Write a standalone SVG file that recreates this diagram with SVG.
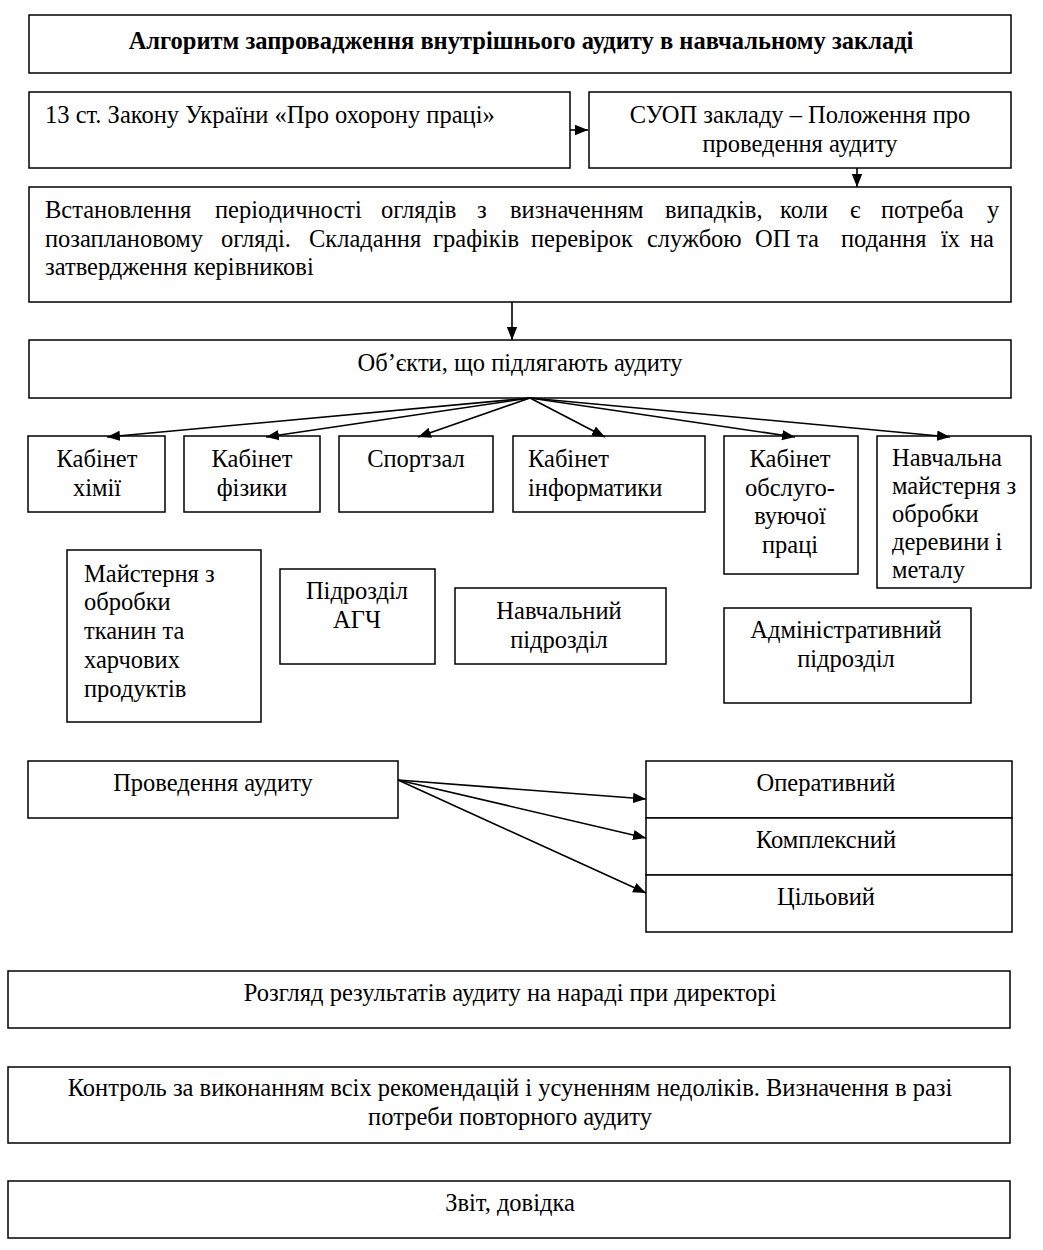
<svg xmlns="http://www.w3.org/2000/svg" width="1043" height="1250" viewBox="0 0 1043 1250">
<defs>
<marker id="ah2" viewBox="0 0 10 10" refX="10" refY="5" markerWidth="13" markerHeight="13" markerUnits="userSpaceOnUse" orient="auto"><path d="M0,1 L10,5 L0,9 z" fill="#000"/></marker>
</defs>
<style>
rect{fill:#fff;stroke:#000;stroke-width:1.5}
text{font-family:"Liberation Serif","Times New Roman",serif;font-size:24.5px;fill:#000}
.c{text-anchor:middle}
.b{font-weight:bold;font-size:24.5px}
.e line{stroke:#000;stroke-width:1.6;marker-end:url(#ah2)}
</style>
<rect x="0" y="0" width="1043" height="1250" style="fill:#fff;stroke:none"/>
<g id="title"><rect x="29" y="15" width="982" height="58"/><text class="c b" x="521" y="49">Алгоритм запровадження внутрішнього аудиту в навчальному закладі</text></g>
<g id="law"><rect x="29" y="92" width="541" height="76"/><text x="45" y="123">13 ст. Закону України «Про охорону праці»</text></g>
<g id="suop"><rect x="589" y="92" width="422" height="76"/><text class="c" x="800" y="123">СУОП закладу – Положення про</text><text class="c" x="800" y="152">проведення аудиту</text></g>
<g id="period"><rect x="29" y="187" width="982" height="115"/>
<text y="218"><tspan x="45">Встановлення</tspan><tspan x="215">періодичності</tspan><tspan x="381">оглядів</tspan><tspan x="477">з</tspan><tspan x="510">визначенням</tspan><tspan x="665">випадків,</tspan><tspan x="780">коли</tspan><tspan x="850">є</tspan><tspan x="881">потреба</tspan><tspan x="987">у</tspan></text>
<text y="247"><tspan x="45">позаплановому</tspan><tspan x="221">огляді.</tspan><tspan x="309">Складання</tspan><tspan x="433">графіків</tspan><tspan x="531">перевірок</tspan><tspan x="647">службою</tspan><tspan x="755">ОП</tspan><tspan x="797">та</tspan><tspan x="841">подання</tspan><tspan x="941">їх</tspan><tspan x="970">на</tspan></text>
<text x="45" y="275">затвердження керівникові</text></g>
<g id="objects"><rect x="29" y="340" width="982" height="58"/><text class="c" x="520" y="371">Об’єкти, що підлягають аудиту</text></g>
<g id="chem"><rect x="28" y="436" width="137" height="76"/><text class="c" x="97" y="467">Кабінет</text><text class="c" x="97" y="496">хімії</text></g>
<g id="phys"><rect x="184" y="436" width="136" height="76"/><text class="c" x="252" y="467">Кабінет</text><text class="c" x="252" y="496">фізики</text></g>
<g id="gym"><rect x="339" y="436" width="154" height="76"/><text class="c" x="416" y="467">Спортзал</text></g>
<g id="inf"><rect x="513" y="436" width="192" height="76"/><text x="528" y="467">Кабінет</text><text x="528" y="496">інформатики</text></g>
<g id="serv"><rect x="724" y="436" width="134" height="138"/><text class="c" x="790" y="467">Кабінет</text><text class="c" x="790" y="496">обслуго-</text><text class="c" x="790" y="524">вуючої</text><text class="c" x="790" y="553">праці</text></g>
<g id="wood"><rect x="877" y="436" width="154" height="152"/><text x="892" y="466">Навчальна</text><text x="892" y="494">майстерня з</text><text x="892" y="522">обробки</text><text x="892" y="550">деревини і</text><text x="892" y="578">металу</text></g>
<g id="textile"><rect x="67" y="550" width="194" height="172"/><text x="84" y="582">Майстерня з</text><text x="84" y="610">обробки</text><text x="84" y="639">тканин та</text><text x="84" y="668">харчових</text><text x="84" y="697">продуктів</text></g>
<g id="agch"><rect x="280" y="569" width="155" height="95"/><text class="c" x="357" y="599">Підрозділ</text><text class="c" x="357" y="628">АГЧ</text></g>
<g id="edu"><rect x="455" y="588" width="211" height="76"/><text class="c" x="559" y="619">Навчальний</text><text class="c" x="559" y="648">підрозділ</text></g>
<g id="adm"><rect x="724" y="608" width="247" height="95"/><text class="c" x="846" y="638">Адміністративний</text><text class="c" x="846" y="667">підрозділ</text></g>
<g id="conduct"><rect x="28" y="761" width="370" height="57"/><text class="c" x="213" y="791">Проведення аудиту</text></g>
<g id="oper"><rect x="646" y="761" width="366" height="57"/><text class="c" x="826" y="791">Оперативний</text></g>
<g id="compl"><rect x="646" y="818" width="366" height="57"/><text class="c" x="826" y="848">Комплексний</text></g>
<g id="target"><rect x="646" y="875" width="366" height="57"/><text class="c" x="826" y="905">Цільовий</text></g>
<g id="review"><rect x="8" y="971" width="1002" height="57"/><text class="c" x="510" y="1001">Розгляд результатів аудиту на нараді при директорі</text></g>
<g id="control"><rect x="8" y="1067" width="1002" height="76"/><text class="c" x="510" y="1096">Контроль за виконанням всіх рекомендацій і усуненням недоліків. Визначення в разі</text><text class="c" x="510" y="1125">потреби повторного аудиту</text></g>
<g id="report"><rect x="8" y="1181" width="1002" height="57"/><text class="c" x="510" y="1211">Звіт, довідка</text></g>
<g id="connectors" class="e">
<line x1="570" y1="130" x2="588" y2="130"/>
<line x1="857" y1="168" x2="857" y2="187"/>
<line x1="512" y1="302" x2="512" y2="340"/>
<line x1="530" y1="398" x2="107" y2="437"/>
<line x1="530" y1="398" x2="266" y2="437"/>
<line x1="530" y1="398" x2="418" y2="437"/>
<line x1="530" y1="398" x2="605" y2="437"/>
<line x1="530" y1="398" x2="795" y2="437"/>
<line x1="530" y1="398" x2="950" y2="437"/>
<line x1="398" y1="780" x2="646" y2="799"/>
<line x1="398" y1="780" x2="646" y2="838"/>
<line x1="398" y1="780" x2="646" y2="893"/>
</g>
</svg>
